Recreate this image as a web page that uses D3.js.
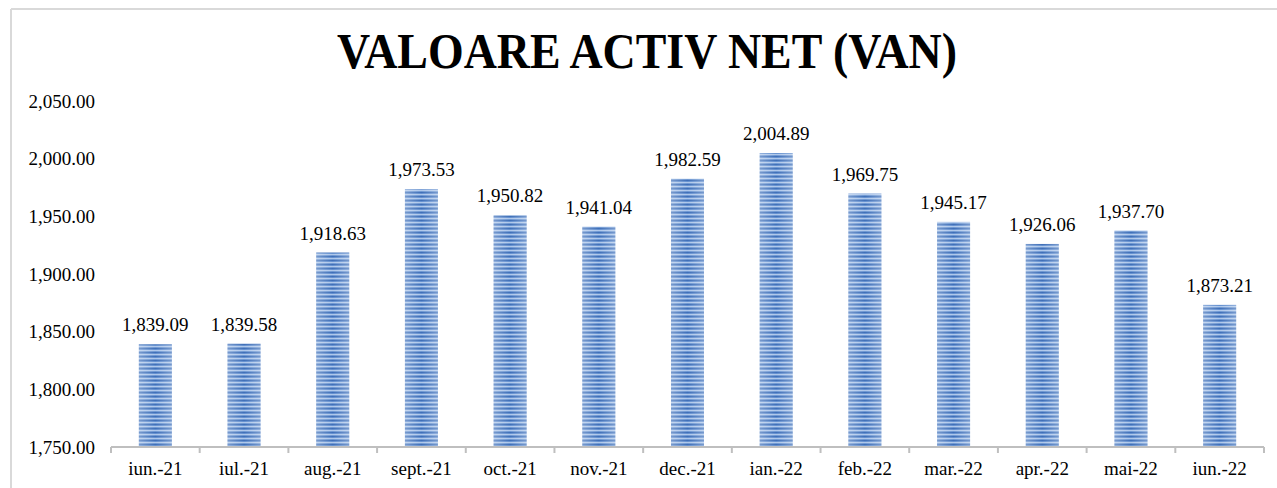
<!DOCTYPE html>
<html>
<head>
<meta charset="utf-8">
<script src="https://cdn.jsdelivr.net/npm/d3@7"></script>
<style>
  body { margin: 0; background: #fff; }
  svg text { font-family: "Liberation Serif", "Times New Roman", serif; fill: #000; }
</style>
</head>
<body>
<div id="chart-area"></div>
<script>
/*
*    valoare activ net
*/

var months = ["iun.-21", "iul.-21", "aug.-21", "sept.-21", "oct.-21", "nov.-21", "dec.-21",
              "ian.-22", "feb.-22", "mar.-22", "apr.-22", "mai-22", "iun.-22"];
var van = [1839.09, 1839.58, 1918.63, 1973.53, 1950.82, 1941.04, 1982.59,
           2004.89, 1969.75, 1945.17, 1926.06, 1937.70, 1873.21];
var yTicks = [1750, 1800, 1850, 1900, 1950, 2000, 2050];

var W = 1277, H = 488;
var mLeft = 111, mRight = 1264, mTop = 101, mBottom = 447;
var serif = "Liberation Serif, Times New Roman, serif";

var svg = d3.select("#chart-area").append("svg")
    .attr("width", W)
    .attr("height", H)
    .attr("font-family", serif);

// frame (only top and left edges show)
svg.append("line")
    .attr("x1", 11).attr("x2", W).attr("y1", 9).attr("y2", 9)
    .attr("stroke", "#d9d9d9").attr("stroke-width", 2);
svg.append("line")
    .attr("x1", 11).attr("x2", 11).attr("y1", 9).attr("y2", H)
    .attr("stroke", "#d9d9d9").attr("stroke-width", 2);

// striped fill
var defs = svg.append("defs");
var pat = defs.append("pattern")
    .attr("id", "stripes")
    .attr("patternUnits", "userSpaceOnUse")
    .attr("width", 8).attr("height", 4);
var rows = ["#3f6fb8", "#6490cf", "#aec7ea", "#6f98d2"];
rows.forEach((c, i) => {
    pat.append("rect").attr("x", 0).attr("y", i).attr("width", 8).attr("height", 1).attr("fill", c);
});
var grad = defs.append("linearGradient")
    .attr("id", "shine")
    .attr("x1", "0%").attr("x2", "100%").attr("y1", "0%").attr("y2", "0%");
grad.append("stop").attr("offset", "0%").attr("stop-color", "#fff").attr("stop-opacity", 0.3);
grad.append("stop").attr("offset", "50%").attr("stop-color", "#fff").attr("stop-opacity", 0);
grad.append("stop").attr("offset", "100%").attr("stop-color", "#fff").attr("stop-opacity", 0.3);

var x = d3.scaleBand()
    .domain(months)
    .range([mLeft, mRight])
    .paddingInner(0)
    .paddingOuter(0);

var y = d3.scaleLinear()
    .domain([1750, 2050])
    .range([mBottom, mTop]);

var barW = 33;

// title
svg.append("text")
    .attr("x", 647)
    .attr("y", 68)
    .attr("text-anchor", "middle")
    .attr("font-family", serif)
    .attr("font-size", 50)
    .attr("font-weight", "bold")
    .attr("textLength", 620)
    .attr("lengthAdjust", "spacingAndGlyphs")
    .text("VALOARE ACTIV NET (VAN)");

// y labels
svg.selectAll(".ylab").data(yTicks).enter()
    .append("text")
        .attr("class", "ylab")
        .attr("x", 95)
        .attr("y", (d) => { return y(d); })
        .attr("dy", "0.35em")
        .attr("text-anchor", "end")
        .attr("font-family", serif)
        .attr("font-size", 19)
        .text((d) => { return d3.format(",.2f")(d); });

// bars
var bars = svg.selectAll(".bar").data(van).enter().append("g").attr("class", "bar");
bars.append("rect")
    .attr("x", (d, i) => { return x(months[i]) + x.bandwidth() / 2 - barW / 2; })
    .attr("y", (d) => { return y(d); })
    .attr("width", barW)
    .attr("height", (d) => { return mBottom - y(d); })
    .attr("fill", "url(#stripes)");
bars.append("rect")
    .attr("x", (d, i) => { return x(months[i]) + x.bandwidth() / 2 - barW / 2; })
    .attr("y", (d) => { return y(d); })
    .attr("width", barW)
    .attr("height", (d) => { return mBottom - y(d); })
    .attr("fill", "url(#shine)");

// data labels
svg.selectAll(".vlab").data(van).enter()
    .append("text")
        .attr("class", "vlab")
        .attr("x", (d, i) => { return x(months[i]) + x.bandwidth() / 2; })
        .attr("y", (d) => { return y(d) - 13; })
        .attr("text-anchor", "middle")
        .attr("font-family", serif)
        .attr("font-size", 19)
        .text((d) => { return d3.format(",.2f")(d); });

// x axis
var xAxis = d3.axisBottom(x).tickSize(0).tickPadding(0);
var gx = svg.append("g")
    .attr("transform", "translate(0," + mBottom + ")")
    .call(xAxis)
    .attr("font-family", serif);
gx.select(".domain").remove();
gx.selectAll("text")
    .attr("y", 28)
    .attr("dy", 0)
    .attr("font-size", 19)
    .attr("fill", "#000");

svg.append("line")
    .attr("x1", mLeft).attr("x2", mRight).attr("y1", mBottom).attr("y2", mBottom)
    .attr("stroke", "#bfbfbf").attr("stroke-width", 2);
var bounds = months.map((m) => x(m)).concat([mRight]);
svg.selectAll(".xtick").data(bounds).enter()
    .append("line")
        .attr("x1", (d) => d).attr("x2", (d) => d)
        .attr("y1", mBottom).attr("y2", mBottom + 6)
        .attr("stroke", "#bfbfbf").attr("stroke-width", 2);
</script>
</body>
</html>
